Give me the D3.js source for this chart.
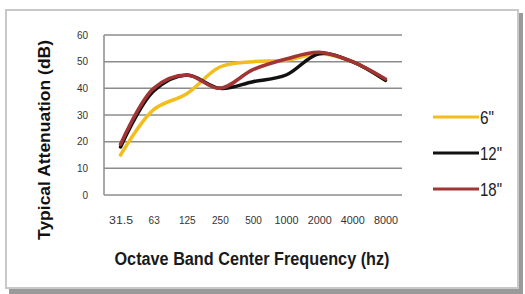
<!DOCTYPE html>
<html>
<head>
<meta charset="utf-8">
<script src="https://cdn.jsdelivr.net/npm/d3@7"></script>
<style>
  body { margin: 0; background: #fff; }
  #chart svg { display: block; }
</style>
</head>
<body>
<div id="chart"></div>
<script>
// chart values
const frequencies = ["31.5", "63", "125", "250", "500", "1000", "2000", "4000", "8000"];
const seriesNames = ['6"', '12"', '18"'];
const atten6 = [15, 32, 38, 48, 50, 50.5, 53, 50, 43];
const atten12 = [18, 39, 45, 40, 42.5, 45, 53, 50, 43];
const atten18 = [19, 40, 45, 40, 47, 51, 53.5, 50, 43.5];
const yTicks = [0, 10, 20, 30, 40, 50, 60];
const colors = ["#f2bd1d", "#111111", "#a13434"];

const W = 525, H = 294;
const margin = { top: 35, right: 123, bottom: 99, left: 104 };
const width = W - margin.left - margin.right;
const height = H - margin.top - margin.bottom;
const font = "Liberation Sans, Arial, sans-serif";

const svg = d3.select("#chart")
    .append("svg")
    .attr("width", W)
    .attr("height", H);

// frame with a soft shadow on the right and bottom
svg.append("rect")
    .attr("x", 9).attr("y", 13)
    .attr("width", 514).attr("height", 281)
    .attr("fill", "#9a9a9a");
svg.append("rect")
    .attr("x", 6).attr("y", 10)
    .attr("width", 512).attr("height", 278)
    .attr("fill", "#fff")
    .attr("stroke", "#c8c8c8")
    .attr("stroke-width", 2);

const g = svg.append("g")
    .attr("transform", `translate(${margin.left},${margin.top})`);

const x = d3.scalePoint()
    .domain(frequencies)
    .range([0, width])
    .padding(0.5);

const y = d3.scaleLinear()
    .domain([0, 60])
    .range([height, 0]);

// gridlines
g.append("g")
    .selectAll("line")
    .data(yTicks)
    .enter()
    .append("line")
    .attr("x1", 0)
    .attr("x2", width)
    .attr("y1", d => y(d))
    .attr("y2", d => y(d))
    .attr("stroke", "#8c8c8c")
    .attr("stroke-width", 1.5);

g.append("line")
    .attr("x1", 0).attr("x2", 0)
    .attr("y1", 0).attr("y2", height)
    .attr("stroke", "#8c8c8c")
    .attr("stroke-width", 1.5);

const yAxis = g.append("g")
    .call(d3.axisLeft(y).tickValues(yTicks).tickSize(0).tickPadding(16));
yAxis.select(".domain").remove();
yAxis.selectAll("text")
    .attr("font-family", font)
    .attr("font-size", 10)
    .attr("fill", "#333");

const xAxis = g.append("g")
    .attr("transform", `translate(0,${height})`)
    .call(d3.axisBottom(x).tickSize(0).tickPadding(22));
xAxis.select(".domain").remove();
xAxis.selectAll("text")
    .attr("font-family", font)
    .attr("font-size", 10)
    .attr("fill", "#333")
    .attr("textLength", d => d.length > 3 ? 24 : null)
    .attr("lengthAdjust", "spacingAndGlyphs");

// smoothed lines
const allSeries = [atten6, atten12, atten18];
const line = d3.line()
    .x((d, i) => x(frequencies[i]))
    .y(d => y(d))
    .curve(d3.curveCatmullRom.alpha(0.5));

g.append("g")
    .selectAll("path")
    .data(allSeries)
    .enter()
    .append("path")
    .attr("d", d => line(d))
    .attr("fill", "none")
    .attr("stroke", (d, i) => colors[i])
    .attr("stroke-width", 3.5)
    .attr("stroke-linecap", "round")
    .attr("stroke-linejoin", "round");

// axis titles (condensed to match the narrow face of the original)
svg.append("text")
    .attr("transform", `translate(50,140) rotate(-90)`)
    .attr("text-anchor", "middle")
    .attr("font-family", font)
    .attr("font-weight", "bold")
    .attr("font-size", 16)
    .attr("fill", "#111")
    .attr("textLength", 200)
    .attr("lengthAdjust", "spacingAndGlyphs")
    .text("Typical  Attenuation  (dB)");

svg.append("text")
    .attr("x", 252)
    .attr("y", 265)
    .attr("text-anchor", "middle")
    .attr("font-family", font)
    .attr("font-weight", "bold")
    .attr("font-size", 18)
    .attr("fill", "#1a1a1a")
    .attr("textLength", 275)
    .attr("lengthAdjust", "spacingAndGlyphs")
    .text("Octave Band Center Frequency (hz)");

// legend
const legend = svg.append("g")
    .selectAll("g")
    .data(seriesNames)
    .enter()
    .append("g")
    .attr("transform", (d, i) => `translate(433,${117 + i * 36})`);

legend.append("line")
    .attr("x1", 0).attr("x2", 46)
    .attr("y1", 0).attr("y2", 0)
    .attr("stroke", (d, i) => colors[i])
    .attr("stroke-width", 3);

legend.append("text")
    .attr("x", 47)
    .attr("y", 7)
    .attr("font-family", font)
    .attr("font-size", 19)
    .attr("fill", "#222")
    .attr("textLength", d => d.length > 2 ? 22 : 14)
    .attr("lengthAdjust", "spacingAndGlyphs")
    .text(d => d);
</script>
</body>
</html>
